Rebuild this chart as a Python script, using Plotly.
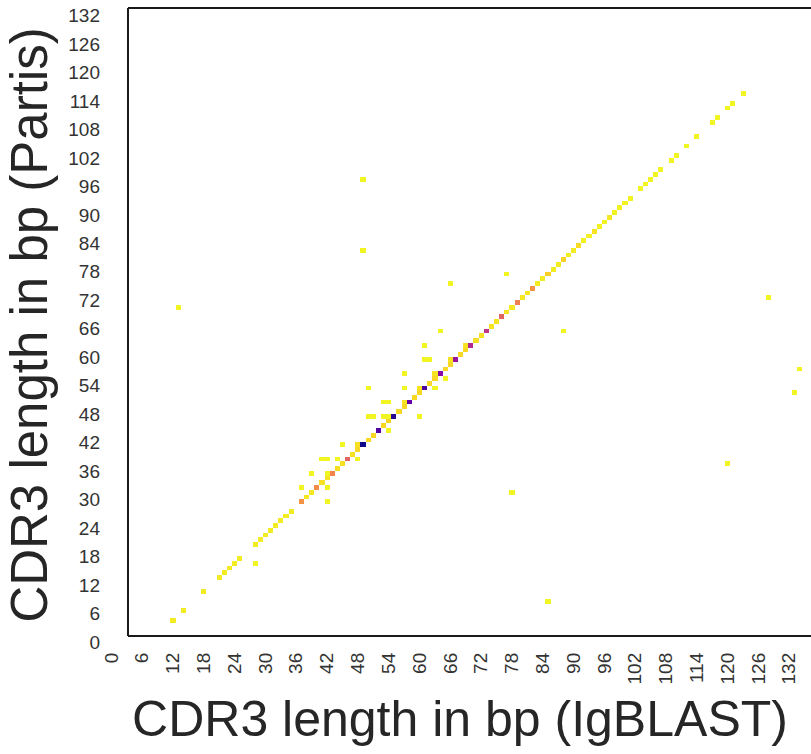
import plotly.graph_objects as go

# ---------------- data ----------------
# CDR3 length (IgBLAST) on x, CDR3 length (Partis) on y, number of sequences per cell
igblast_len = [12, 14, 18, 21, 22, 23, 24, 25, 28, 29, 30, 31, 32, 33, 34, 35,
               37, 38, 39, 40, 41, 42, 43, 44, 45, 46, 47, 48, 49, 50, 51, 52,
               53, 54, 55, 56, 57, 58, 59, 60, 61, 62, 63, 64, 65, 66, 67, 68,
               69, 70, 71, 72, 73, 74, 75, 76, 77, 78, 79, 80, 81, 82, 83, 84,
               85, 86, 87, 88, 89, 90, 91, 92, 93, 94, 95, 96, 97, 98, 99, 100,
               101, 103, 104, 105, 106, 107, 109, 110, 112, 114, 117, 118, 120, 121, 123,
               # off-diagonal cells
               49, 49, 13, 77, 88, 128, 134, 133, 78, 120, 85, 28, 64, 66, 61, 61,
               62, 57, 57, 63, 65, 50, 53, 54, 50, 51, 53, 54, 60, 54, 45, 48,
               44, 42, 41, 39, 42, 42, 37, 42, 48, 57, 60, 63, 66, 69]
partis_len = [4, 6, 10, 13, 14, 15, 16, 17, 20, 21, 22, 23, 24, 25, 26, 27,
              29, 30, 31, 32, 33, 34, 35, 36, 37, 38, 39, 40, 41, 42, 43, 44,
              45, 46, 47, 48, 49, 50, 51, 52, 53, 54, 55, 56, 57, 58, 59, 60,
              61, 62, 63, 64, 65, 66, 67, 68, 69, 70, 71, 72, 73, 74, 75, 76,
              77, 78, 79, 80, 81, 82, 83, 84, 85, 86, 87, 88, 89, 90, 91, 92,
              93, 95, 96, 97, 98, 99, 101, 102, 104, 106, 109, 110, 112, 113, 115,
              # off-diagonal cells
              97, 82, 70, 77, 65, 72, 57, 52, 31, 37, 8, 16, 65, 75, 62, 59,
              59, 56, 53, 53, 55, 53, 50, 50, 47, 47, 47, 47, 47, 44, 41, 38,
              38, 38, 38, 35, 35, 32, 32, 29, 41, 50, 53, 56, 59, 62]
counts = [3, 3, 3, 3, 3, 3, 3, 3, 3, 3, 3, 3, 3, 3, 3, 3,
          26, 4, 4, 28, 6, 5, 30, 6, 6, 40, 6, 8, 100, 8, 8, 85,
          8, 8, 95, 8, 8, 80, 8, 8, 88, 8, 8, 72, 8, 8, 68, 8,
          8, 60, 6, 6, 55, 5, 5, 40, 5, 4, 32, 4, 4, 26, 3, 3,
          10, 3, 3, 9, 3, 3, 7, 2, 2, 5, 2, 2, 4, 2, 2, 2,
          2, 1, 1, 1, 1, 1, 1, 1, 1, 1, 1, 1, 1, 1, 1,
          # off-diagonal cells
          1, 1, 1, 1, 1, 1, 1, 1, 1, 1, 1, 1, 1, 1, 1, 1,
          1, 1, 1, 1, 1, 1, 1, 1, 1, 1, 1, 1, 1, 1, 1, 1,
          1, 1, 1, 1, 1, 1, 1, 1, 6, 5, 5, 5, 5, 5]
tick_values = [0, 6, 12, 18, 24, 30, 36, 42, 48, 54, 60, 66, 72, 78, 84, 90,
               96, 102, 108, 114, 120, 126, 132]
tick_labels = [str(v) for v in tick_values]

N = 140
z = [[None] * N for _ in range(N)]
for a, b, c in zip(igblast_len, partis_len, counts):
    z[b][a] = c

x_centers = list(range(N))          # cell centred on the length
y_edges = list(range(N + 1))        # cell spans [length, length+1]

fig = go.Figure(go.Heatmap(
    z=z, x=x_centers, y=y_edges,
    colorscale="Plasma", reversescale=True, zmin=0, zmax=100,
    showscale=False, xgap=0, ygap=0, hoverongaps=False,
))

FONT = "Liberation Sans, Arial, sans-serif"
XR = [-0.467, 136.23]
YR = [-0.443, 134.02]
FL, FB, FT, FR = 3.23, 1.24, 133.6, 136.23

line = dict(color="#1a1a1a", width=2)
fig.add_shape(type="line", x0=FL, x1=FL, y0=FB, y1=FT, xref="x", yref="y", line=line, layer="above")
fig.add_shape(type="line", x0=FL, x1=FR, y0=FB, y1=FB, xref="x", yref="y", line=line, layer="above")
fig.add_shape(type="line", x0=FL, x1=FR, y0=FT, y1=FT, xref="x", yref="y", line=line, layer="above")

fig.update_layout(
    width=811, height=754,
    margin=dict(l=109, r=0, t=6, b=110, autoexpand=False),
    paper_bgcolor="white", plot_bgcolor="white",
    font=dict(family=FONT, color="#262626"),
    xaxis=dict(
        range=XR, tickmode="array", tickvals=tick_values, ticktext=tick_labels,
        tickangle=-90, tickfont=dict(size=19, color="#333333"),
        showgrid=False, zeroline=False, showline=False, ticks="",
        ticklabelstandoff=4, automargin=False,
        title=dict(text="CDR3 length in bp (IgBLAST)", font=dict(size=50, color="#262626"), standoff=17),
    ),
    yaxis=dict(
        range=YR, tickmode="array", tickvals=tick_values, ticktext=tick_labels,
        tickfont=dict(size=19, color="#333333"),
        showgrid=False, zeroline=False, showline=False, ticks="",
        ticklabelstandoff=8, automargin=False,
        title=dict(text="CDR3 length in bp (Partis)", font=dict(size=51, color="#262626"), standoff=4),
    ),
)

fig.write_html("out.html", config={"displayModeBar": False},
               post_script="document.body.style.margin='0';document.body.style.overflow='hidden';")
